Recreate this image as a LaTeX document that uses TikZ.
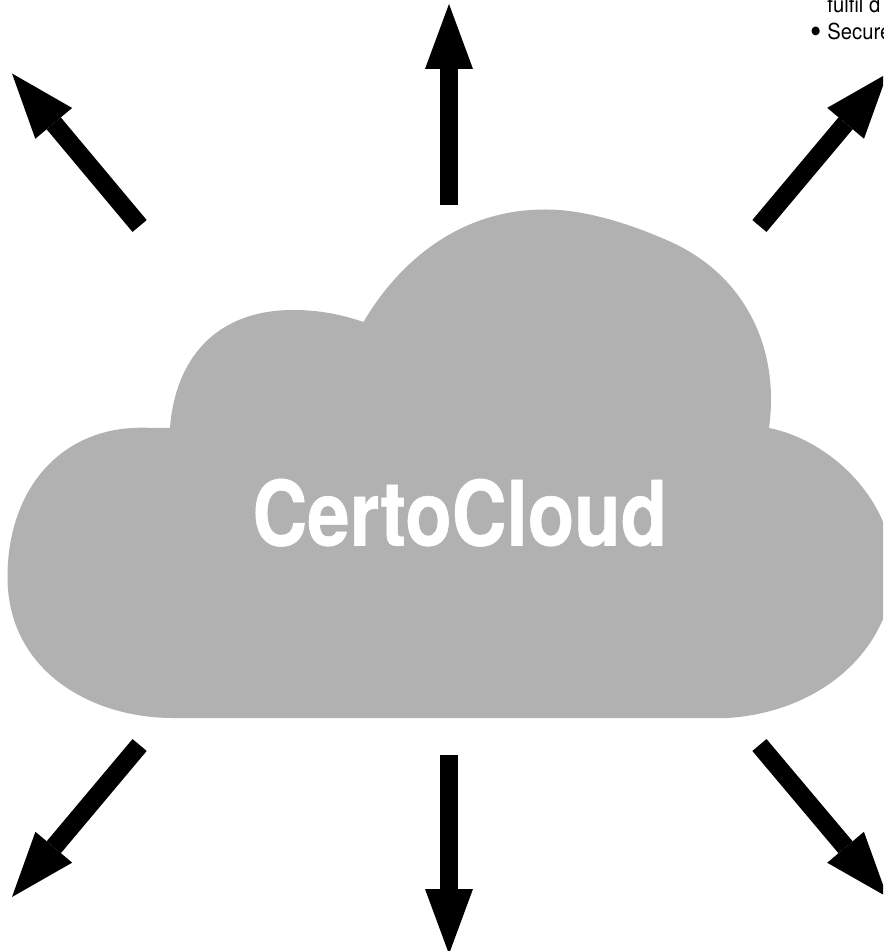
\documentclass[tikz,border=0pt]{standalone}
\usepackage{fontspec}
\usetikzlibrary{arrows.meta}
\newfontfamily\titlefont[FakeStretch=0.845,BoldFeatures={FakeBold=0.6}]{TeX Gyre Heros}
\newfontfamily\notefont[FakeStretch=0.92]{TeX Gyre Heros}
\definecolor{cloudgrey}{HTML}{B1B1B1}
\tikzset{
  bigarrow/.style={line width=9.25pt,draw=black,-{Triangle[length=32.5pt,width=24pt,line width=0pt,fill=black]}},
  cloudshape/.style={fill=cloudgrey,draw=none},
  titletext/.style={text=white,font=\titlefont\bfseries\fontsize{45}{50}\selectfont,inner sep=0pt,anchor=base},
  notetext/.style={text=black,font=\notefont\fontsize{11}{13}\selectfont,inner sep=0pt,anchor=base west},
  bullettext/.style={text=black,font=\notefont\fontsize{17.5}{20}\selectfont,inner sep=0pt,anchor=base west}
}
\begin{document}
\begin{tikzpicture}[x=0.5pt,y=-0.5pt]
\useasboundingbox (0,0) rectangle (883,951);
\clip (0,0) rectangle (883,951);
\fill[white] (0,0) rectangle (883,951);
% cloud
\path[cloudshape] (363.5,322)
  .. controls (395,268) and (455,209) .. (546,209.5)
  .. controls (590,209.5) and (640,228) .. (671,242)
  .. controls (735,271) and (771,330) .. (771,399.5)
  .. controls (771,410) and (770,420) .. (769,428)
  .. controls (830,440) and (893,500) .. (893,570)
  .. controls (893,645) and (825,712) .. (727,718)
  -- (173,718)
  .. controls (90,718) and (7.5,670) .. (7.5,577)
  .. controls (7.5,490) and (60,427) .. (143,427.7)
  -- (170,428)
  .. controls (175,360) and (215,310) .. (293,310)
  .. controls (318,310) and (340,314) .. (363.5,322)
  -- cycle;
\node[titletext] (title) at (459.8,545.5) {CertoCloud};
% cut-off text at the top right
\node[notetext] (line1) at (827,13) {fulfil d};
\node[bullettext] (bullet) at (810,44) {•};
\node[notetext] (line2) at (827,40) {Secure};
% arrow ends
\coordinate (upT) at (449,205);   \coordinate (upH) at (449,4);
\coordinate (dnT) at (449,754.5); \coordinate (dnH) at (449,954);
\coordinate (tlT) at (139.6,226); \coordinate (tlH) at (12,73.5);
\coordinate (trT) at (759.4,226); \coordinate (trH) at (887.4,73.5);
\coordinate (blT) at (139.6,745); \coordinate (blH) at (12,897);
\coordinate (brT) at (759.4,745); \coordinate (brH) at (887.4,897);
\draw[bigarrow] (upT) -- (upH);
\draw[bigarrow] (dnT) -- (dnH);
\draw[bigarrow] (tlT) -- (tlH);
\draw[bigarrow] (trT) -- (trH);
\draw[bigarrow] (blT) -- (blH);
\draw[bigarrow] (brT) -- (brH);
\end{tikzpicture}
\end{document}
